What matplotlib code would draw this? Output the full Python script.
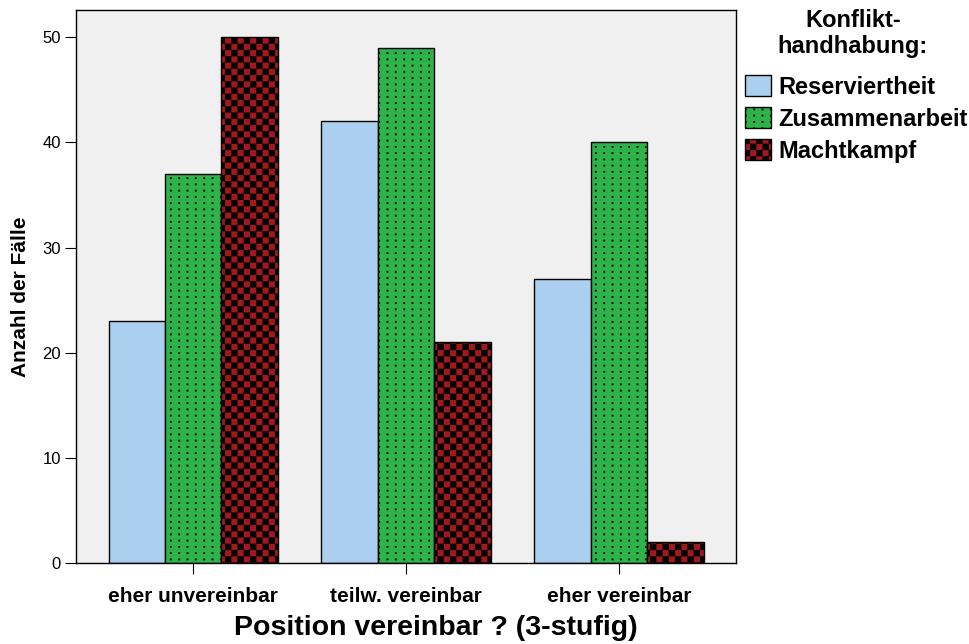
import warnings
import numpy as np
import matplotlib
matplotlib.use('Agg')
import matplotlib.pyplot as plt
from matplotlib import hatch as mhatch
from matplotlib.path import Path

warnings.filterwarnings('ignore')

# data
categories = ['eher unvereinbar', 'teilw. vereinbar', 'eher vereinbar']
series = ['Reserviertheit', 'Zusammenarbeit', 'Machtkampf']
reserviertheit = [23, 42, 27]
zusammenarbeit = [37, 49, 40]
machtkampf = [50, 21, 2]


# small filled squares as hatch: ':' = dot grid, '#' = checkerboard
class SquareHatch(mhatch.HatchPatternBase):
    char = None

    def __init__(self, hatch, density):
        self.cells = self.make_cells() if self.char in hatch else []
        self.num_vertices = 5 * len(self.cells)

    def set_vertices_and_codes(self, vertices, codes):
        for k, (x0, y0, w, h) in enumerate(self.cells):
            vertices[5*k:5*k+5] = [(x0, y0), (x0+w, y0), (x0+w, y0+h), (x0, y0+h), (x0, y0)]
            codes[5*k:5*k+5] = [Path.MOVETO, Path.LINETO, Path.LINETO, Path.LINETO, Path.CLOSEPOLY]


class CheckerHatch(SquareHatch):
    char = '#'

    def make_cells(self):
        n = 16
        return [(i/n, j/n, 1/n, 1/n) for i in range(n) for j in range(n) if (i + j) % 2 == 0]


class DotHatch(SquareHatch):
    char = ':'

    def make_cells(self):
        nx, ny, s = 12, 16, 0.017
        return [((i+0.5)/nx - s/2, (j+0.5)/ny - s/2, s, s) for i in range(nx) for j in range(ny)]


mhatch._hatch_types.extend([CheckerHatch, DotHatch])

plt.rcParams['font.family'] = ['Liberation Sans', 'DejaVu Sans']
plt.rcParams['hatch.linewidth'] = 0.1

fig = plt.figure(figsize=(9.7, 6.44), dpi=100)
ax = fig.add_axes([0.0784, 0.1258, 0.6804, 0.8587])
ax.set_facecolor('#f0f0f0')

x = np.arange(len(categories))
w = 0.265
colors = ['#abcfee', '#2db34a', '#a3181c']
hatches = ['', ':', '#']
values = [reserviertheit, zusammenarbeit, machtkampf]
for k in range(3):
    ax.bar(x + (k - 1) * w, values[k], w, color=colors[k], hatch=hatches[k],
           edgecolor='black', linewidth=1.0, label=series[k], zorder=2)

ax.set_xlim(-0.55, 2.55)
ax.set_ylim(0, 52.6)
ax.set_yticks([0, 10, 20, 30, 40, 50])
ax.set_xticks(x)
ax.set_xticklabels(categories, fontsize=15, fontweight='bold')
ax.tick_params(axis='y', labelsize=12, length=8, pad=3)
ax.tick_params(axis='x', length=8, pad=9)
for s in ax.spines.values():
    s.set_linewidth(1.0)
    s.set_color('black')

ax.set_ylabel('Anzahl der Fälle', fontsize=15, fontweight='bold')
ax.yaxis.set_label_coords(-0.07, 0.481)
ax.set_xlabel('Position vereinbar ? (3-stufig)', fontsize=20.5, fontweight='bold')
ax.xaxis.set_label_coords(0.545, -0.094)

fig.text(853 / 970, 1 - 33.5 / 644, 'Konflikt-\nhandhabung:', fontsize=17, fontweight='bold',
         ha='center', va='center', multialignment='center', linespacing=1.15)
leg = ax.legend(loc='upper left', bbox_to_anchor=(0.768, 0.883),
                bbox_transform=fig.transFigure, frameon=False, fontsize=17,
                handlelength=1.1, handleheight=1.0, handletextpad=0.3,
                labelspacing=0.35, borderpad=0, borderaxespad=0)
for t in leg.get_texts():
    t.set_fontweight('bold')

fig.savefig('out.png', dpi=100)
